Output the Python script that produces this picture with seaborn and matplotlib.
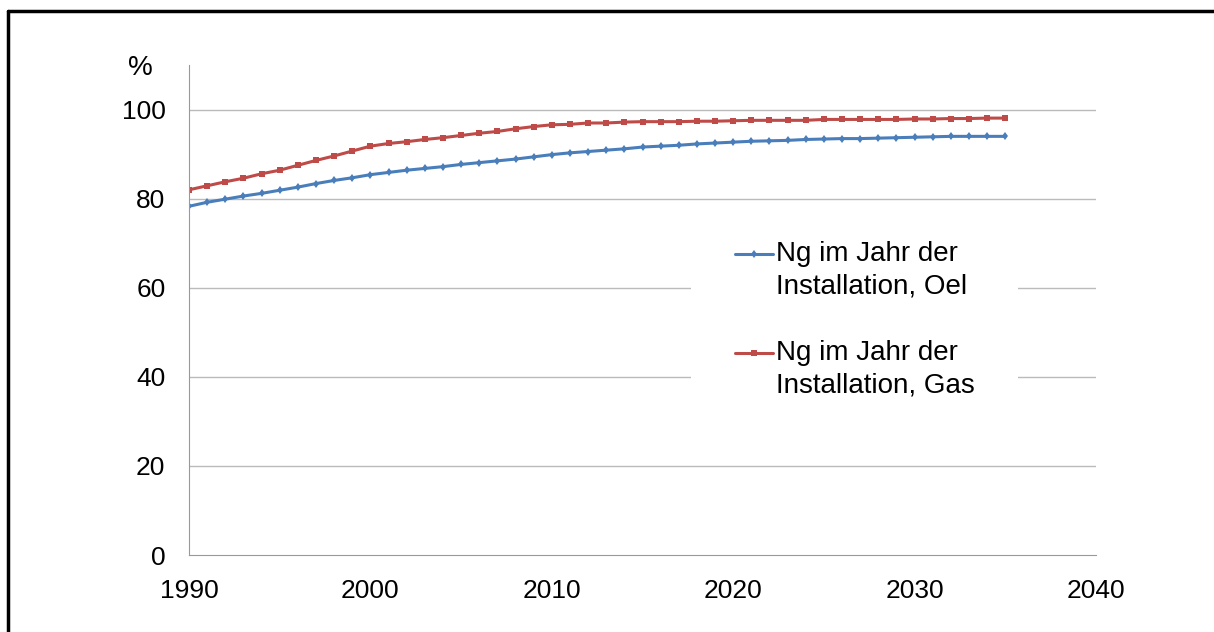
import numpy as np
import pandas as pd
import matplotlib.pyplot as plt
import seaborn as sns

years = list(range(1990, 2036))

oel = [78.3, 79.2, 79.9, 80.6, 81.2, 81.9, 82.6, 83.4, 84.1, 84.7,
       85.4, 85.9, 86.4, 86.8, 87.2, 87.7, 88.1, 88.5, 88.9, 89.4,
       89.9, 90.3, 90.6, 90.9, 91.2, 91.6, 91.8, 92.0, 92.3, 92.5,
       92.7, 92.9, 93.0, 93.1, 93.3, 93.4, 93.5, 93.5, 93.6, 93.7,
       93.8, 93.9, 94.0, 94.0, 94.0, 94.0]

gas = [82.0, 82.9, 83.8, 84.6, 85.6, 86.4, 87.5, 88.6, 89.6, 90.7,
       91.8, 92.4, 92.8, 93.3, 93.7, 94.2, 94.7, 95.1, 95.7, 96.2,
       96.6, 96.7, 97.0, 97.0, 97.2, 97.3, 97.3, 97.3, 97.4, 97.4,
       97.5, 97.6, 97.6, 97.6, 97.6, 97.8, 97.8, 97.8, 97.8, 97.8,
       97.9, 97.9, 98.0, 98.0, 98.1, 98.1]

labels = ["Ng im Jahr der\nInstallation, Oel", "Ng im Jahr der\nInstallation, Gas"]
colors = ["#4A7EBB", "#BE4B48"]

df = pd.DataFrame({
    "Jahr": years * 2,
    "Wert": oel + gas,
    "Serie": [labels[0]] * len(years) + [labels[1]] * len(years),
})

sns.set_style("white")
plt.rcParams['font.family'] = ['Liberation Sans', 'DejaVu Sans']
plt.rcParams['text.color'] = 'black'

fig = plt.figure(figsize=(12.14, 6.32), dpi=100)
ax = fig.add_axes([0.1557, 0.1218, 0.7471, 0.7752])

sns.lineplot(data=df, x="Jahr", y="Wert", hue="Serie", style="Serie",
             palette=colors, markers=["d", "s"], dashes=False,
             markersize=4.5, markeredgewidth=0, linewidth=2.2, ax=ax)

ax.set_xlim(1990, 2040)
ax.set_ylim(0, 110)
ax.set_xticks(range(1990, 2041, 10))
ax.set_yticks(range(0, 101, 20))
ax.tick_params(labelsize=19, colors="#999999", labelcolor="black",
               direction="out", length=5, width=1)
ax.tick_params(axis="y", pad=12)
ax.tick_params(axis="x", pad=12)
for y in range(20, 101, 20):
    ax.axhline(y, color="#BBBBBB", lw=1, zorder=0)
for side in ["top", "right"]:
    ax.spines[side].set_visible(False)
for side in ["left", "bottom"]:
    ax.spines[side].set_color("#999999")
ax.set_xlabel("")
ax.set_ylabel("")
fig.text(0.1153, 0.892, "%", fontsize=20, ha="center", va="center", color="black")

# white box behind the legend, hides the grid lines
ax.add_patch(plt.Rectangle((0.5535, 0.316), 0.3605, 0.347, transform=ax.transAxes,
                           facecolor="white", edgecolor="none", zorder=1))

leg = ax.legend(loc="upper left", bbox_to_anchor=(0.602, 0.641), fontsize=20,
                frameon=False, handlelength=1.35, handletextpad=0.12,
                labelspacing=1.45, borderpad=0, borderaxespad=0)
for t in leg.get_texts():
    t.set_color("black")
    t.set_linespacing(1.32)
# legend line sits next to the first text line, like in Excel
for h in leg.legend_handles:
    h.set_ydata(np.asarray(h.get_ydata()) + 11.5)

# outer frame (right and bottom edges are cut off in the reference)
fig.add_artist(plt.Line2D([0.0070, 0.0070], [0, 0.983], color="black", lw=2.5,
                          transform=fig.transFigure))
fig.add_artist(plt.Line2D([0.0070, 1.0], [0.983, 0.983], color="black", lw=2.5,
                          transform=fig.transFigure))

fig.savefig("out.png", dpi=100)
